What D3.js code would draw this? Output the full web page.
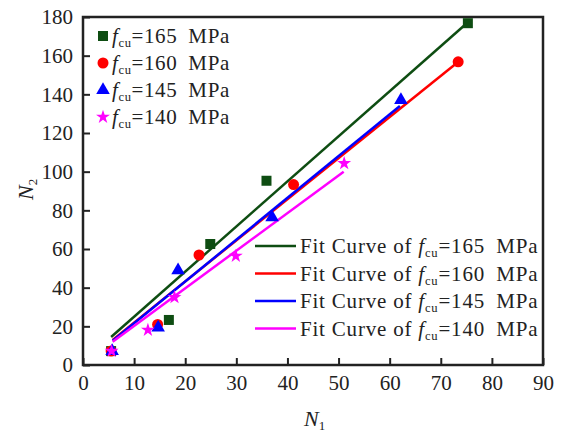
<!DOCTYPE html>
<html>
<head>
<meta charset="utf-8">
<script src="https://cdn.jsdelivr.net/npm/d3@7"></script>
<style>
  body { margin: 0; background: #fff; }
  text { font-family: "Liberation Serif", "Times New Roman", serif; fill: #222; }
</style>
</head>
<body>
<script>
// strengths of the four series
var strengths = ["165", "160", "145", "140"];
var colors = ["#0e4d12", "#ff0000", "#0000ff", "#ff00ff"];
var lineColors = ["#0e4d12", "#ff0000", "#0000ff", "#ff00ff"];

// measured points (N1, N2)
var n1_165 = [5.5, 16.8, 24.9, 35.9, 75.3];
var n2_165 = [7.2, 23.3, 62.6, 95.3, 176.8];
var n1_160 = [5.5, 14.6, 22.7, 41.2, 73.4];
var n2_160 = [7.2, 21.0, 56.9, 93.3, 156.8];
var n1_145 = [5.7, 14.7, 18.6, 37.0, 62.2];
var n2_145 = [7.2, 19.3, 49.0, 76.4, 137.0];
var n1_140 = [5.6, 12.7, 17.9, 29.9, 51.1];
var n2_140 = [7.2, 18.1, 35.0, 56.4, 104.3];

// fit lines, start / end
var fitX = [[5.5, 75.2], [5.8, 73.5], [5.8, 62], [5.8, 51]];
var fitY = [[14.5, 177], [13, 157], [12.5, 134], [12, 100]];

var xTicks = [0, 10, 20, 30, 40, 50, 60, 70, 80, 90];
var yTicks = [0, 20, 40, 60, 80, 100, 120, 140, 160, 180];

var pointsX = [n1_165, n1_160, n1_145, n1_140];
var pointsY = [n2_165, n2_160, n2_145, n2_140];
var symbols = [d3.symbolSquare, d3.symbolCircle, d3.symbolTriangle, d3.symbolStar];
var symSizes = [100, 95, 80, 60];

var W = 567, H = 436;
var svg = d3.select("body").append("svg").attr("width", W).attr("height", H);

var x = d3.scaleLinear().domain([0, 90]).range([83, 543]);
var y = d3.scaleLinear().domain([0, 180]).range([365, 17]);

// axes, ticks pointing inward
var xAxis = svg.append("g").attr("transform", "translate(0," + y(0) + ")")
    .call(d3.axisBottom(x).tickValues(xTicks).tickSizeInner(-7).tickSizeOuter(0).tickPadding(10));
var yAxis = svg.append("g").attr("transform", "translate(" + x(0) + ",0)")
    .call(d3.axisLeft(y).tickValues(yTicks).tickSizeInner(-7).tickSizeOuter(0).tickPadding(10));
[xAxis, yAxis].forEach(function(a) {
    a.select(".domain").remove();
    a.selectAll("line").attr("stroke", "#222").attr("stroke-width", 2);
    a.selectAll("text").style("font-size", "21px").attr("fill", "#222");
});

// frame
svg.append("rect")
    .attr("x", x(0)).attr("y", y(180))
    .attr("width", x(90) - x(0)).attr("height", y(0) - y(180))
    .attr("fill", "none").attr("stroke", "#222").attr("stroke-width", 2.5);

// fit lines
var line = d3.line().x(function(d) { return x(d[0]); }).y(function(d) { return y(d[1]); });
fitX.forEach(function(fx, i) {
    svg.append("path")
        .datum([[fx[0], fitY[i][0]], [fx[1], fitY[i][1]]])
        .attr("d", line)
        .attr("fill", "none")
        .attr("stroke", lineColors[i])
        .attr("stroke-width", 2.5);
});

// points
pointsX.forEach(function(px, i) {
    svg.append("g").selectAll("path")
        .data(px.map(function(v, j) { return [v, pointsY[i][j]]; }))
        .join("path")
        .attr("transform", function(d) { return "translate(" + x(d[0]) + "," + y(d[1]) + ")"; })
        .attr("d", d3.symbol().type(symbols[i]).size(symSizes[i]))
        .attr("fill", colors[i]);
});

// label with italic f and subscript cu
function fcuText(g, prefix, s, xx, yy, size) {
    var t = g.append("text").attr("x", xx).attr("y", yy).style("font-size", size + "px");
    if (prefix) t.append("tspan").text(prefix);
    t.append("tspan").style("font-style", "italic").text("f");
    t.append("tspan").attr("dy", 4).style("font-size", (size * 0.6) + "px").text("cu");
    t.append("tspan").attr("dy", -4).text("=" + s + "\u2002MPa");
    return t;
}

// legend for points
var leg1 = svg.append("g");
strengths.forEach(function(s, i) {
    var ly = 36 + i * 27;
    leg1.append("path")
        .attr("transform", "translate(103," + ly + ")")
        .attr("d", d3.symbol().type(symbols[i]).size(symSizes[i]))
        .attr("fill", colors[i]);
    fcuText(leg1, "", s, 112, ly + 7, 21).style("letter-spacing", "0.6px");
});

// legend for fit lines
var leg2 = svg.append("g");
strengths.forEach(function(s, i) {
    var ly = 246 + i * 27.5;
    leg2.append("line")
        .attr("x1", 255).attr("x2", 296).attr("y1", ly).attr("y2", ly)
        .attr("stroke", lineColors[i]).attr("stroke-width", 2.5);
    fcuText(leg2, "Fit Curve of ", s, 300, ly + 7, 21).style("letter-spacing", "0.8px");
});

// axis titles
var xt = svg.append("text").attr("x", 304).attr("y", 426).style("font-size", "22px");
xt.append("tspan").style("font-style", "italic").text("N");
xt.append("tspan").attr("dy", 4).style("font-size", "13px").text("1");

var yt = svg.append("text").attr("transform", "translate(33,200) rotate(-90)").style("font-size", "22px");
yt.append("tspan").style("font-style", "italic").text("N");
yt.append("tspan").attr("dy", 4).style("font-size", "13px").text("2");
</script>
</body>
</html>
